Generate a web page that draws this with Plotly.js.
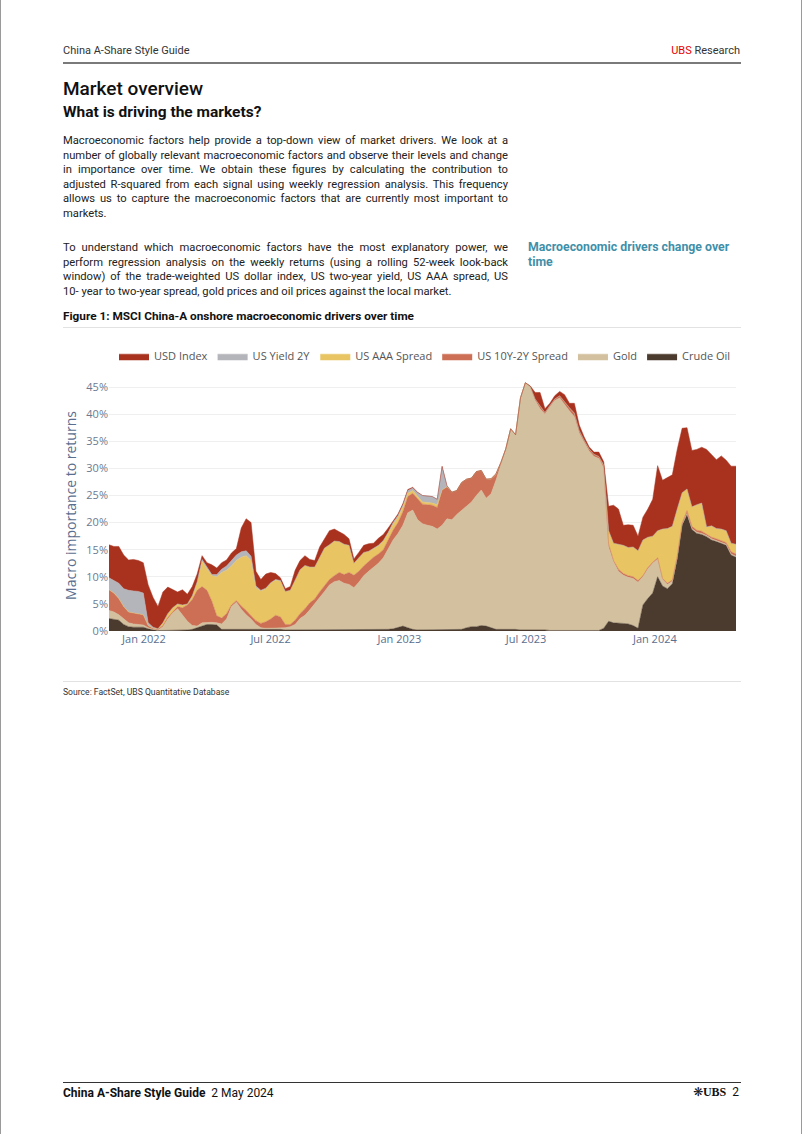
<!DOCTYPE html>
<html>
<head>
<meta charset="utf-8">
<script src="https://cdn.plot.ly/plotly-3.0.1.min.js"></script>
<style>
  body { margin: 0; background: #fff; }
  #page { position: relative; width: 802px; height: 1134px; box-sizing: border-box;
          border-left: 1px solid #9a9a9a; border-right: 1px solid #9a9a9a;
          font-family: Roboto, "Open Sans", sans-serif; color: #1a1a1a; overflow: hidden; }
  .abs { position: absolute; white-space: nowrap; }
  .rule { position: absolute; left: 62px; width: 678px; }
  .para { position: absolute; left: 62px; width: 445px; font-size: 11.2px; line-height: 14.6px; color: #222; }
  .para div { text-align: justify; text-align-last: justify; white-space: nowrap; }
  .para div.last { text-align-last: left; }
</style>
</head>
<body>
<div id="page">
  <div class="abs" style="left:62px;top:44px;font-size:11px;color:#333;">China A-Share Style Guide</div>
  <div class="abs" style="right:61px;top:44px;font-size:11px;color:#333;"><span style="color:#e60000;">UBS</span> Research</div>
  <div class="rule" style="top:62px;height:2px;background:#7a7a7a;"></div>

  <div class="abs" style="left:62px;top:77px;font-size:19px;font-weight:500;color:#111;">Market overview</div>
  <div class="abs" style="left:62px;top:103px;font-size:15.5px;font-weight:700;color:#111;">What is driving the markets?</div>

  <div class="para" style="top:134px;">
    <div>Macroeconomic factors help provide a top-down view of market drivers. We look at a</div>
    <div>number of globally relevant macroeconomic factors and observe their levels and change</div>
    <div>in importance over time. We obtain these figures by calculating the contribution to</div>
    <div>adjusted R-squared from each signal using weekly regression analysis. This frequency</div>
    <div>allows us to capture the macroeconomic factors that are currently most important to</div>
    <div class="last">markets.</div>
  </div>

  <div class="para" style="top:241px;">
    <div>To understand which macroeconomic factors have the most explanatory power, we</div>
    <div>perform regression analysis on the weekly returns (using a rolling 52-week look-back</div>
    <div>window) of the trade-weighted US dollar index, US two-year yield, US AAA spread, US</div>
    <div class="last">10- year to two-year spread, gold prices and oil prices against the local market.</div>
  </div>

  <div class="abs" style="left:527px;top:240px;font-size:12.3px;line-height:14.6px;font-weight:700;color:#3f8fa9;">Macroeconomic drivers change over<br>time</div>

  <div class="abs" style="left:62px;top:309px;font-size:11.8px;font-weight:700;color:#111;">Figure 1: MSCI China-A onshore macroeconomic drivers over time</div>
  <div class="rule" style="top:327px;height:1px;background:#e2e2e2;"></div>

  <div id="chart" style="position:absolute;left:0;top:330px;width:802px;height:350px;"></div>

  <div class="rule" style="top:681px;height:1px;background:#e2e2e2;"></div>
  <div class="abs" style="left:62px;top:687px;font-size:8.6px;color:#333;">Source: FactSet, UBS Quantitative Database</div>

  <div class="rule" style="top:1082px;height:1px;background:#333;"></div>
  <div class="abs" style="left:62px;top:1086px;font-size:12px;color:#111;"><b>China A-Share Style Guide</b>&nbsp; 2 May 2024</div>
  <div class="abs" style="right:62px;top:1085px;font-size:12px;color:#111;"><span style="font-family:'DejaVu Sans';font-size:12px;">&#10059;</span><span style="font-family:'Liberation Serif';font-weight:700;">UBS</span>&nbsp; 2</div>
</div>

<script>
// weekly observations (Fridays)
var weeks = [
  '2021-11-12','2021-11-19','2021-11-26','2021-12-03','2021-12-10','2021-12-17','2021-12-24','2021-12-31',
  '2022-01-07','2022-01-14','2022-01-21','2022-01-28','2022-02-04','2022-02-11','2022-02-18','2022-02-25',
  '2022-03-04','2022-03-11','2022-03-18','2022-03-25','2022-04-01','2022-04-08','2022-04-15','2022-04-22',
  '2022-04-29','2022-05-06','2022-05-13','2022-05-20','2022-05-27','2022-06-03','2022-06-10','2022-06-17',
  '2022-06-24','2022-07-01','2022-07-08','2022-07-15','2022-07-22','2022-07-29','2022-08-05','2022-08-12',
  '2022-08-19','2022-08-26','2022-09-02','2022-09-09','2022-09-16','2022-09-23','2022-09-30','2022-10-07',
  '2022-10-14','2022-10-21','2022-10-28','2022-11-04','2022-11-11','2022-11-18','2022-11-25','2022-12-02',
  '2022-12-09','2022-12-16','2022-12-23','2022-12-30',
  '2023-01-06','2023-01-13','2023-01-20','2023-01-27','2023-02-03','2023-02-10','2023-02-17','2023-02-24',
  '2023-03-03','2023-03-10','2023-03-17','2023-03-24','2023-03-31','2023-04-07','2023-04-14','2023-04-21',
  '2023-04-28','2023-05-05','2023-05-12','2023-05-19','2023-05-26','2023-06-02','2023-06-09','2023-06-16',
  '2023-06-23','2023-06-30','2023-07-07','2023-07-14','2023-07-21','2023-07-28','2023-08-04','2023-08-11',
  '2023-08-18','2023-08-25','2023-09-01','2023-09-08','2023-09-15','2023-09-22','2023-09-29','2023-10-06',
  '2023-10-13','2023-10-20','2023-10-27','2023-11-03','2023-11-10','2023-11-17','2023-11-24','2023-12-01',
  '2023-12-08','2023-12-15','2023-12-22','2023-12-29',
  '2024-01-05','2024-01-12','2024-01-19','2024-01-26','2024-02-02','2024-02-09','2024-02-16','2024-02-23',
  '2024-03-01','2024-03-08','2024-03-15','2024-03-22','2024-03-29','2024-04-05','2024-04-12','2024-04-19',
  '2024-04-26'
];

// contribution to adjusted R-squared, in %
var crudeOil = [2.3,2.2,2.0,1.2,0.8,0.7,0.7,0.7,0.4,0.2,
  0.1,0.1,0.1,0.1,0.2,0.2,0.2,0.3,0.6,1.0,
  1.2,1.2,1.1,0.3,0.3,0.3,0.3,0.3,0.3,0.3,
  0.3,0.3,0.3,0.4,0.4,0.3,0.2,0.2,0.2,0.2,
  0.2,0.2,0.3,0.3,0.3,0.2,0.2,0.2,0.2,0.2,
  0.2,0.2,0.2,0.2,0.2,0.2,0.2,0.3,0.4,0.7,
  0.9,0.6,0.3,0.2,0.2,0.2,0.2,0.2,0.2,0.2,
  0.2,0.2,0.3,0.6,0.8,0.8,1.0,0.9,0.6,0.3,
  0.3,0.3,0.4,0.3,0.2,0.2,0.2,0.3,0.3,0.2,
  0.1,0.1,0.1,0.1,0.1,0.1,0.1,0.1,0.1,0.1,
  0.1,0.5,1.8,1.5,1.5,1.4,1.3,1.0,0.5,4.8,
  6.0,7.0,10.0,8.3,7.8,8.7,13.3,19.5,21.5,18.7,
  18.0,17.8,17.4,16.8,16.5,16.2,15.8,14.0,13.6];

var gold = [1.5,1.3,1.0,1.0,0.7,0.6,0.5,0.4,0.2,0.1,
  0.1,0.7,2.1,3.2,3.9,2.8,1.6,0.7,0.3,0.5,
  0.4,0.4,0.4,1.0,1.9,4.2,5.0,3.7,2.7,1.9,
  0.9,0.3,0.2,0.1,0.1,0.2,0.4,0.6,1.0,2.1,
  2.7,3.7,4.7,5.7,7.0,8.3,8.9,9.1,8.6,8.4,
  7.8,8.8,10.0,10.8,11.6,12.3,13.3,14.9,16.4,17.3,
  18.6,21.2,22.0,20.3,19.6,19.3,19.1,18.6,19.3,20.5,
  20.3,21.3,22.0,22.4,23.0,24.2,25.0,23.6,24.7,27.5,
  30.2,33.2,36.9,35.9,42.8,45.6,44.8,42.2,40.7,39.8,
  41.2,42.4,42.9,41.6,40.5,39.4,36.4,34.7,33.1,32.1,
  31.7,29.5,13.7,11.3,9.5,8.9,8.6,8.7,8.5,5.2,
  5.5,5.5,3.3,1.2,0.8,0.5,0.3,0.2,0.2,0.2,
  0.2,0.2,0.2,0.2,0.2,0.2,0.2,0.2,0.2];

var us10y2y = [3.8,3.5,3.0,2.3,2.0,2.0,2.0,1.9,0.4,0.2,
  0.1,0.2,0.3,0.3,0.4,1.3,3.0,4.8,6.6,6.7,
  5.9,3.9,1.3,1.1,1.0,0.3,0.3,0.6,0.8,0.6,
  0.7,0.8,1.2,1.7,2.4,2.1,0.6,0.4,0.8,0.9,
  1.2,1.3,0.9,1.2,1.1,1.0,1.1,1.5,1.6,2.2,
  2.3,2.0,1.8,1.8,1.8,1.7,1.5,1.6,1.8,2.0,
  2.5,3.0,3.1,3.9,3.6,3.8,3.9,4.0,6.5,5.9,
  5.1,4.4,5.1,5.0,4.4,4.4,3.6,3.5,2.7,1.0,
  0.5,0.1,0,0,0,0,0.1,0.3,0.5,0.3,
  0.3,0.3,0.4,0.5,0.6,0.7,0.5,0.4,0.4,0.4,
  0.4,0.4,0.5,0.2,0.4,0.3,0.3,0.3,0.3,0.2,
  0.2,0.2,0.2,0.2,0.2,0.2,0.2,0.2,0.5,0.4,
  0.4,0.4,0.3,0.3,0.3,0.3,0.3,0.4,0.4];

var usAAA = [0,0,0,0,0,0,0,0,0,0,
  0.1,0.5,0.7,0.7,0.5,0.5,0.2,0.7,1.5,4.6,
  4.0,4.7,7.2,8.4,8.0,7.2,7.4,9.0,10.1,10.2,
  6.1,6.0,6.1,6.6,6.5,6.6,6.1,6.3,7.5,8.1,
  8.0,6.6,5.9,6.3,6.9,6.4,6.4,5.7,5.6,5.0,
  2.2,2.5,2.5,1.9,1.6,1.5,1.6,1.2,1.1,1.0,
  0.9,0.6,0.5,0.5,0.4,0.4,0.4,0.5,0,0,
  0,0,0,0,0,0,0,0,0.1,0.2,
  0.1,0,0,0,0,0,0,0,0,0,
  0,0,0,0,0,0,0,0,0,0,
  0,0.2,2.5,3.2,4.6,5.2,5.2,5.5,5.5,6.6,
  5.6,4.8,5.0,9.1,10.1,9.9,8.7,5.6,4.0,3.6,
  4.7,5.2,1.3,2.1,1.9,2.1,2.2,1.6,1.8];

var usYield2y = [2.2,2.3,2.8,3.3,4.0,4.1,4.1,4.0,0.5,0.2,
  0,0,0,0,0,0,0,0,0.1,0.4,
  0.3,0.2,0.4,0.6,0.8,1.0,1.0,1.0,0.9,0.8,
  0.3,0.1,0.1,0.1,0.1,0.1,0,0,0,0,
  0,0,0,0,0,0,0,0,0,0,
  0,0,0,0,0.1,0.1,0.1,0.2,0.3,0.3,
  0.4,0.5,0.5,0.6,1.2,1.2,1.2,1.0,4.2,0.2,
  0,0,0,0,0,0,0,0,0,0,
  0,0,0,0,0,0,0,0,0,0,
  0,0,0,0,0,0,0,0,0,0,
  0,0,0,0,0,0,0,0,0,0,
  0,0,0,0,0,0,0,0,0,0,
  0,0,0,0,0,0,0,0,0];

var usdIndex = [6.1,6.3,6.8,6.2,5.6,5.8,5.7,5.6,7.0,5.5,
  4.1,5.7,4.9,3.3,2.2,2.8,1.8,1.7,1.4,0.7,
  0.8,1.8,1.2,1.2,1.1,1.4,1.2,4.4,5.9,6.2,
  2.7,2.0,2.6,1.9,1.1,0.5,0.5,0.7,1.7,1.7,
  1.8,1.4,1.2,2.0,1.7,2.6,2.2,1.8,1.8,1.2,
  0.8,1.0,1.3,1.4,0.9,1.3,1.1,0.8,0.4,0.3,
  0.2,0.2,0.1,0.1,0,0,0,0,0.2,0,
  0,0,0,0,0,0,0,0,0,0,
  0,0,0,0,0,0,0.1,1.2,2.5,0.7,
  0.4,0.6,0.8,1.4,0.8,1.8,1.0,0.6,0.4,0.4,
  0.8,0.6,4.5,7.0,6.5,3.7,4.2,4.0,2.7,4.2,
  5.2,6.8,12.0,9.0,9.4,9.5,11.0,11.9,11.3,10.4,
  10.2,10.3,14.3,13.2,12.7,13.5,13.0,14.2,14.4];

var names  = ['Crude Oil', 'Gold', 'US 10Y-2Y Spread', 'US AAA Spread', 'US Yield 2Y', 'USD Index'];
var colors = ['#4b3a2e', '#d2c09f', '#cd6f55', '#e9c462', '#b4b4bb', '#a9321f'];
var series = [crudeOil, gold, us10y2y, usAAA, usYield2y, usdIndex];

var traces = [];
for (var i = 0; i < series.length; i++) {
  traces.push({
    x: weeks,
    y: series[i],
    name: names[i],
    type: 'scatter',
    mode: 'lines',
    stackgroup: 'one',
    line: {width: 0.5, color: colors[i]},
    fillcolor: colors[i],
    hoverinfo: 'skip'
  });
}

var layout = {
  width: 802, height: 350,
  margin: {l: 108, r: 67, t: 48, b: 49},
  paper_bgcolor: 'rgba(0,0,0,0)',
  plot_bgcolor: '#ffffff',
  font: {family: 'Open Sans, sans-serif', size: 11, color: '#555'},
  showlegend: true,
  legend: {orientation: 'h', traceorder: 'reversed', x: 1, xanchor: 'right',
           y: 1.095, yanchor: 'middle', itemwidth: 30,
           font: {size: 11, color: '#555'}},
  xaxis: {type: 'date', tickformat: '%b %Y', dtick: 'M6', tick0: '2022-01-01',
          showgrid: false, zeroline: false, showline: false, ticks: '',
          tickfont: {size: 11, color: '#5a6f8f'}},
  yaxis: {range: [0, 46.3], dtick: 5, ticksuffix: '%', zeroline: false,
          gridcolor: '#efefef', tickfont: {size: 11, color: '#6c7a8f'},
          title: {text: 'Macro importance to returns', font: {size: 14, color: '#5a6f8f'}, standoff: 6}}
};

Plotly.newPlot('chart', traces, layout, {staticPlot: true, displayModeBar: false});
</script>
</body>
</html>
